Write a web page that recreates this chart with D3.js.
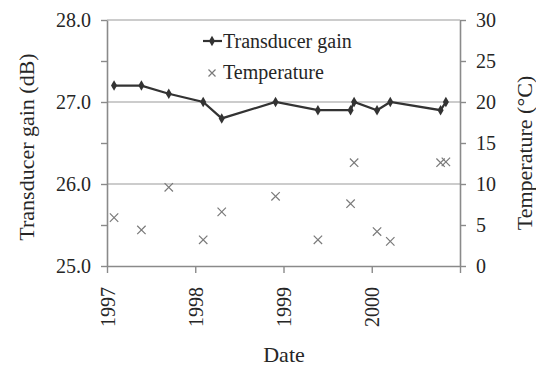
<!DOCTYPE html>
<html>
<head>
<meta charset="utf-8">
<script src="https://cdn.jsdelivr.net/npm/d3@7"></script>
<style>
  html, body { margin: 0; padding: 0; background: #fff; }
  svg { display: block; }
  text { font-family: "Liberation Serif", "Times New Roman", serif; fill: #262626; }
</style>
</head>
<body>
<svg id="chart" width="536" height="367"></svg>
<script>
// Measurement dates (decimal years)
const dates = [1997.08, 1997.39, 1997.70, 1998.09, 1998.30, 1998.91, 1999.39,
               1999.76, 1999.80, 2000.06, 2000.21, 2000.78, 2000.84];
// Transducer gain (dB) at each date
const gain = [27.2, 27.2, 27.1, 27.0, 26.8, 27.0, 26.9, 26.9, 27.0, 26.9, 27.0, 26.9, 27.0];
// Water temperature (°C) at each date
const temperature = [5.9, 4.4, 9.6, 3.2, 6.6, 8.5, 3.2, 7.6, 12.6, 4.2, 3.0, 12.6, 12.7];

const yearTicks = [1997, 1998, 1999, 2000, 2001];
const yearLabels = ["1997", "1998", "1999", "2000", ""];
const gainTicks = [25, 25.5, 26, 26.5, 27, 27.5, 28];
const gainGrid = [26, 27, 28];
const tempTicks = [0, 5, 10, 15, 20, 25, 30];

const svg = d3.select("#chart");
const m = { left: 107, right: 460, top: 20, bottom: 266 };

const x = d3.scaleLinear().domain([1997, 2001]).range([m.left, m.right]);
const yG = d3.scaleLinear().domain([25, 28]).range([m.bottom, m.top]);
const yT = d3.scaleLinear().domain([0, 30]).range([m.bottom, m.top]);

const axisColor = "#8a8a8a";

// horizontal gridlines
svg.append("g").selectAll("line").data(gainGrid).join("line")
  .attr("x1", m.left).attr("x2", m.right)
  .attr("y1", d => yG(d)).attr("y2", d => yG(d))
  .attr("stroke", "#9a9a9a").attr("stroke-width", 1.2);

function styleAxis(g) {
  g.attr("font-family", null);
  g.selectAll(".domain").attr("stroke", axisColor).attr("stroke-width", 1.6);
  g.selectAll(".tick line").attr("stroke", axisColor).attr("stroke-width", 1.4);
  g.selectAll(".tick text").attr("font-size", 20).attr("fill", "#262626");
}

// left axis: gain
const gL = svg.append("g").attr("transform", `translate(${m.left},0)`)
  .call(d3.axisLeft(yG).tickValues(gainTicks).tickSize(6).tickSizeOuter(0)
    .tickPadding(10)
    .tickFormat(d => Number.isInteger(d) ? d3.format(".1f")(d) : ""));
styleAxis(gL);

// right axis: temperature
const gR = svg.append("g").attr("transform", `translate(${m.right},0)`)
  .call(d3.axisRight(yT).tickValues(tempTicks).tickSize(6).tickSizeOuter(0)
    .tickPadding(10).tickFormat(d3.format("d")));
styleAxis(gR);

// bottom axis: date
const gB = svg.append("g").attr("transform", `translate(0,${m.bottom})`)
  .call(d3.axisBottom(x).tickValues(yearTicks).tickSize(7).tickSizeOuter(0)
    .tickFormat((d, i) => yearLabels[i]));
styleAxis(gB);
gB.selectAll(".tick text")
  .attr("transform", "rotate(-90)")
  .attr("text-anchor", "end")
  .attr("x", -21).attr("y", 0).attr("dy", "0.36em");

// temperature markers (×)
const xs = 4.2;
svg.append("g").selectAll("path").data(dates).join("path")
  .attr("d", (d, i) => {
    const cx = x(d), cy = yT(temperature[i]);
    return `M${cx - xs},${cy - xs}L${cx + xs},${cy + xs}M${cx - xs},${cy + xs}L${cx + xs},${cy - xs}`;
  })
  .attr("stroke", "#7a7a7a").attr("stroke-width", 1.2).attr("fill", "none");

// gain line with diamond markers
const line = d3.line().x((d, i) => x(dates[i])).y(d => yG(d));
svg.append("path").datum(gain).attr("d", line)
  .attr("fill", "none").attr("stroke", "#333").attr("stroke-width", 2.2);
const diamond = d3.symbol().type(d3.symbolDiamond).size(32);
svg.append("g").selectAll("path").data(gain).join("path")
  .attr("transform", (d, i) => `translate(${x(dates[i])},${yG(d)})`)
  .attr("d", diamond).attr("fill", "#333");

// legend
const lg = svg.append("g");
lg.append("line").attr("x1", 203).attr("x2", 222).attr("y1", 41).attr("y2", 41)
  .attr("stroke", "#333").attr("stroke-width", 2.2);
lg.append("path").attr("transform", "translate(212,41)").attr("d", diamond).attr("fill", "#333");
lg.append("text").attr("x", 223).attr("y", 48).attr("font-size", 20).text("Transducer gain");
lg.append("path")
  .attr("d", `M${212 - 3.5},${73 - 3.5}L${212 + 3.5},${73 + 3.5}M${212 - 3.5},${73 + 3.5}L${212 + 3.5},${73 - 3.5}`)
  .attr("stroke", "#7a7a7a").attr("stroke-width", 1.2);
lg.append("text").attr("x", 223).attr("y", 79).attr("font-size", 20).text("Temperature");

// axis titles
svg.append("text").attr("transform", "translate(34,147) rotate(-90)")
  .attr("text-anchor", "middle").attr("font-size", 22).text("Transducer gain (dB)");
svg.append("text").attr("transform", "translate(532,153) rotate(-90)")
  .attr("text-anchor", "middle").attr("font-size", 22).text("Temperature (°C)");
svg.append("text").attr("x", 284).attr("y", 362)
  .attr("text-anchor", "middle").attr("font-size", 22).text("Date");
</script>
</body>
</html>
